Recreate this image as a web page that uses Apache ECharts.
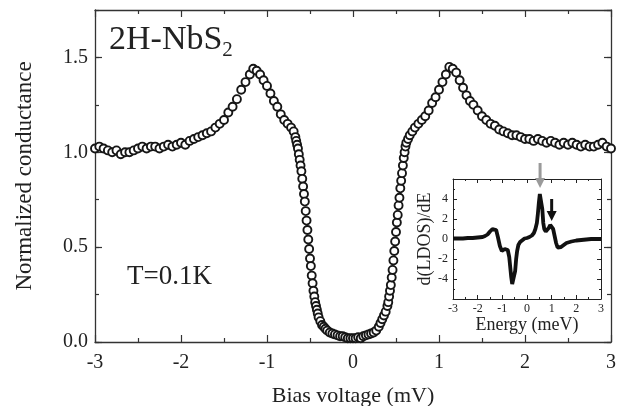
<!DOCTYPE html>
<html>
<head>
<meta charset="utf-8">
<script src="https://cdn.jsdelivr.net/npm/echarts@6/dist/echarts.min.js"></script>
<style>html,body{margin:0;padding:0;background:#fff}#c{width:619px;height:406px}</style>
</head>
<body>
<div id="c"></div>
<script>
// ---- Main panel: normalized conductance vs bias voltage (mV) ----
var biasV = [
-3.00,-2.95,-2.90,-2.85,-2.80,-2.75,-2.70,-2.65,-2.60,-2.55,-2.50,-2.45,-2.40,-2.35,-2.30,-2.25,-2.20,-2.15,-2.10,-2.05,
-2.00,-1.95,-1.90,-1.85,-1.80,-1.75,-1.70,-1.65,-1.60,-1.55,-1.50,-1.45,-1.40,-1.35,-1.30,-1.25,-1.20,-1.16,-1.12,-1.08,
-1.04,-1.00,-0.96,-0.92,-0.88,-0.84,-0.80,-0.76,-0.72,-0.69,-0.67,-0.66,-0.65,-0.64,-0.63,-0.62,-0.61,-0.60,-0.59,-0.58,
-0.57,-0.56,-0.55,-0.54,-0.53,-0.52,-0.51,-0.50,-0.49,-0.48,-0.47,-0.46,-0.45,-0.44,-0.43,-0.42,-0.41,-0.40,-0.38,-0.36,
-0.34,-0.32,-0.30,-0.27,-0.24,-0.21,-0.18,-0.15,-0.12,-0.09,-0.06,-0.03,0.00,0.03,0.06,0.09,0.12,0.15,0.18,0.21,
0.24,0.27,0.30,0.32,0.34,0.36,0.38,0.40,0.41,0.42,0.43,0.44,0.45,0.46,0.47,0.48,0.49,0.50,0.51,0.52,
0.53,0.54,0.55,0.56,0.57,0.58,0.59,0.60,0.61,0.62,0.64,0.66,0.69,0.72,0.76,0.80,0.84,0.88,0.92,0.96,
1.00,1.04,1.08,1.12,1.16,1.20,1.24,1.28,1.32,1.36,1.40,1.45,1.50,1.55,1.60,1.65,1.70,1.75,1.80,1.85,
1.90,1.95,2.00,2.05,2.10,2.15,2.20,2.25,2.30,2.35,2.40,2.45,2.50,2.55,2.60,2.65,2.70,2.75,2.80,2.85,
2.90,2.95,3.00
];
var conductance = [
1.02,1.03,1.02,1.01,1.00,1.01,0.99,1.00,1.00,1.01,1.02,1.03,1.02,1.03,1.03,1.02,1.03,1.04,1.03,1.04,
1.05,1.04,1.06,1.07,1.08,1.09,1.10,1.11,1.13,1.15,1.17,1.21,1.24,1.28,1.33,1.37,1.41,1.44,1.43,1.41,
1.38,1.35,1.31,1.27,1.24,1.20,1.17,1.15,1.13,1.11,1.08,1.06,1.04,1.02,0.99,0.96,0.93,0.90,0.86,0.82,
0.78,0.74,0.69,0.64,0.59,0.54,0.49,0.44,0.40,0.35,0.31,0.27,0.24,0.21,0.19,0.17,0.15,0.13,0.11,0.09,
0.08,0.07,0.06,0.05,0.045,0.04,0.035,0.03,0.03,0.025,0.02,0.02,0.02,0.02,0.025,0.02,0.03,0.035,0.04,0.045,
0.05,0.06,0.08,0.10,0.12,0.14,0.16,0.19,0.21,0.24,0.27,0.30,0.34,0.38,0.43,0.48,0.53,0.58,0.63,0.67,
0.72,0.76,0.81,0.85,0.89,0.93,0.97,1.00,1.03,1.05,1.07,1.09,1.11,1.13,1.15,1.17,1.19,1.22,1.26,1.29,
1.33,1.37,1.41,1.45,1.44,1.42,1.38,1.34,1.30,1.27,1.25,1.22,1.19,1.17,1.15,1.14,1.12,1.11,1.10,1.09,
1.09,1.08,1.07,1.07,1.06,1.07,1.06,1.05,1.06,1.05,1.04,1.05,1.04,1.05,1.04,1.03,1.04,1.03,1.03,1.04,
1.05,1.03,1.02
];
var mainXTicks = [-3, -2, -1, 0, 1, 2, 3];
var mainYTicks = ['0.0', '0.5', '1.0', '1.5'];

// ---- Inset: d(LDOS)/dE vs energy (meV) ----
var energy = [
-3.0,-2.8,-2.6,-2.4,-2.2,-2.0,-1.8,-1.7,-1.6,-1.5,-1.4,-1.32,-1.25,-1.18,-1.1,-1.02,-0.96,-0.9,-0.84,-0.78,
-0.72,-0.68,-0.64,-0.6,-0.56,-0.52,-0.48,-0.44,-0.4,-0.35,-0.28,-0.2,-0.1,0.0,0.1,0.2,0.28,0.34,0.4,0.44,
0.48,0.52,0.55,0.58,0.62,0.66,0.7,0.76,0.82,0.88,0.94,1.0,1.06,1.12,1.18,1.24,1.3,1.38,1.46,1.6,
1.8,2.0,2.2,2.4,2.6,2.8,3.0
];
var dLDOS = [
0.05,0.05,0.05,0.1,0.1,0.15,0.2,0.3,0.45,0.75,1.0,1.15,0.9,0.2,-0.7,-1.2,-1.3,-1.0,-0.8,-1.1,
-1.8,-2.8,-3.8,-4.5,-4.7,-4.3,-3.2,-2.0,-1.2,-0.6,-0.3,-0.1,0.05,0.1,0.2,0.35,0.6,1.0,1.6,2.5,
3.6,4.5,4.7,4.3,3.0,1.6,1.0,0.75,0.8,1.1,1.4,1.5,1.0,0.3,-0.4,-0.85,-1.0,-0.8,-0.6,-0.4,
-0.25,-0.15,-0.1,-0.05,0.0,0.0,0.0
];
// arrows in the inset (data units): energy position, tail value, tip value
var arrowX = [0.53, 1.0];
var arrowFrom = [7.6, 4.0];
var arrowTo = [5.1, 1.8];

var FONT = 'Liberation Serif';
var INK = '#222';
var mainData = biasV.map(function (v, i) { return [v, conductance[i]]; });
var insetData = energy.map(function (v, i) { return [v, dLDOS[i]]; });
var arrowColors = ['#9a9a9a', '#111'];

function frameAxis(extra) {
  var base = {
    axisLine: { show: true, onZero: false, lineStyle: { color: '#333', width: 1.3 } },
    axisTick: { show: true, inside: true, length: 7, lineStyle: { color: '#333', width: 1.2 } },
    axisLabel: { show: false },
    splitLine: { show: false },
    minorTick: { show: false },
    minorSplitLine: { show: false }
  };
  for (var k in extra) base[k] = extra[k];
  return base;
}
var insetLine = { show: true, onZero: false, lineStyle: { color: '#222', width: 1 } };
var insetTick = { show: true, inside: true, length: 4, lineStyle: { color: '#222', width: 1 } };
var insetMinor = { show: true, splitNumber: 2, length: 2, lineStyle: { color: '#222', width: 1 } };

var chart = echarts.init(document.getElementById('c'), null, { renderer: 'canvas' });
chart.setOption({
  animation: false,
  backgroundColor: '#fff',
  grid: [
    { left: 95, right: 8, top: 10, bottom: 64, containLabel: false, outerBoundsMode: 'none' },
    { left: 453, right: 18, top: 179, bottom: 107, containLabel: false, outerBoundsMode: 'none' }
  ],
  xAxis: [
    frameAxis({ type: 'value', gridIndex: 0, position: 'bottom', min: -3, max: 3, interval: 1,
      minorTick: { show: true, splitNumber: 2, length: 4, lineStyle: { color: '#333', width: 1.2 } },
      axisLabel: { show: true, fontFamily: FONT, fontSize: 20, color: INK, margin: 11,
        formatter: function (v) { return mainXTicks.indexOf(v) >= 0 ? String(v) : ''; } },
      name: 'Bias voltage (mV)', nameLocation: 'middle', nameGap: 43,
      nameTextStyle: { fontFamily: FONT, fontSize: 22, color: INK } }),
    frameAxis({ type: 'value', gridIndex: 0, position: 'top', min: -3, max: 3, interval: 1,
      minorTick: { show: true, splitNumber: 2, length: 4, lineStyle: { color: '#333', width: 1.2 } } }),
    frameAxis({ type: 'value', gridIndex: 1, position: 'bottom', min: -3, max: 3, interval: 1,
      axisLine: insetLine, axisTick: insetTick, minorTick: insetMinor,
      axisLabel: { show: true, fontFamily: FONT, fontSize: 12, color: INK, margin: 4 },
      name: 'Energy (meV)', nameLocation: 'middle', nameGap: 16,
      nameTextStyle: { fontFamily: FONT, fontSize: 18, color: INK } }),
    frameAxis({ type: 'value', gridIndex: 1, position: 'top', min: -3, max: 3, interval: 1,
      axisLine: insetLine, axisTick: insetTick, minorTick: insetMinor })
  ],
  yAxis: [
    frameAxis({ type: 'value', gridIndex: 0, position: 'left', min: 0, max: 1.75, interval: 0.5,
      axisLabel: { show: true, fontFamily: FONT, fontSize: 20, color: INK, margin: 7, showMaxLabel: false,
        formatter: function (v) { var s = v.toFixed(1); return mainYTicks.indexOf(s) >= 0 ? s : ''; } },
      name: 'Normalized conductance', nameLocation: 'middle', nameGap: 59,
      nameTextStyle: { fontFamily: FONT, fontSize: 23, color: INK } }),
    frameAxis({ type: 'value', gridIndex: 0, position: 'left', min: 0, max: 1.75, interval: 0.25,
      axisLine: { show: false, onZero: false }, axisTick: { show: true, inside: true, length: 4, lineStyle: { color: '#333', width: 1.2 } } }),
    frameAxis({ type: 'value', gridIndex: 0, position: 'right', min: 0, max: 1.75, interval: 0.5 }),
    frameAxis({ type: 'value', gridIndex: 0, position: 'right', min: 0, max: 1.75, interval: 0.25,
      axisLine: { show: false, onZero: false }, axisTick: { show: true, inside: true, length: 4, lineStyle: { color: '#333', width: 1.2 } } }),
    frameAxis({ type: 'value', gridIndex: 1, position: 'left', min: -6, max: 6, interval: 2,
      axisLine: insetLine, axisTick: insetTick, minorTick: insetMinor,
      axisLabel: { show: true, fontFamily: FONT, fontSize: 12, color: INK, margin: 5, showMinLabel: false, showMaxLabel: false },
      name: 'd(LDOS)/dE', nameLocation: 'middle', nameGap: 12,
      nameTextStyle: { fontFamily: FONT, fontSize: 18, color: INK } }),
    frameAxis({ type: 'value', gridIndex: 1, position: 'right', min: -6, max: 6, interval: 2,
      axisLine: insetLine, axisTick: insetTick, minorTick: insetMinor })
  ],
  series: [
    { type: 'scatter', xAxisIndex: 0, yAxisIndex: 0, data: mainData, symbol: 'circle', symbolSize: 8,
      itemStyle: { color: '#fff', borderColor: '#161616', borderWidth: 1.9, opacity: 1 } },
    { type: 'line', xAxisIndex: 2, yAxisIndex: 4, data: insetData, showSymbol: false,
      lineStyle: { color: '#111', width: 3.8 } }
  ]
});

// annotations: texts and the two arrows placed through the inset's own scales
var finder = { xAxisIndex: 2, yAxisIndex: 4 };
var graphics = [
  { type: 'text', left: 109, top: 23, z: 100,
    style: { text: '{a|2H-NbS}{b|2}', fill: INK,
      rich: { a: { fontFamily: FONT, fontSize: 34, fill: INK, padding: [0, 0, 4, 0], verticalAlign: 'top' },
              b: { fontFamily: FONT, fontSize: 21, fill: INK, verticalAlign: 'bottom' } } } },
  { type: 'text', left: 127, top: 263, z: 100,
    style: { text: 'T=0.1K', fontFamily: FONT, fontSize: 27, fill: INK } }
];
arrowX.forEach(function (x, i) {
  var p0 = chart.convertToPixel(finder, [x, arrowFrom[i]]);
  var p1 = chart.convertToPixel(finder, [x, arrowTo[i]]);
  graphics.push({ type: 'line', z: 120, shape: { x1: p0[0], y1: p0[1], x2: p1[0], y2: p1[1] - 8 },
    style: { stroke: arrowColors[i], lineWidth: 3 } });
  graphics.push({ type: 'polygon', z: 120,
    shape: { points: [[p1[0] - 5, p1[1] - 10], [p1[0] + 5, p1[1] - 10], [p1[0], p1[1]]] },
    style: { fill: arrowColors[i] } });
});
chart.setOption({ graphic: graphics });
</script>
</body>
</html>
